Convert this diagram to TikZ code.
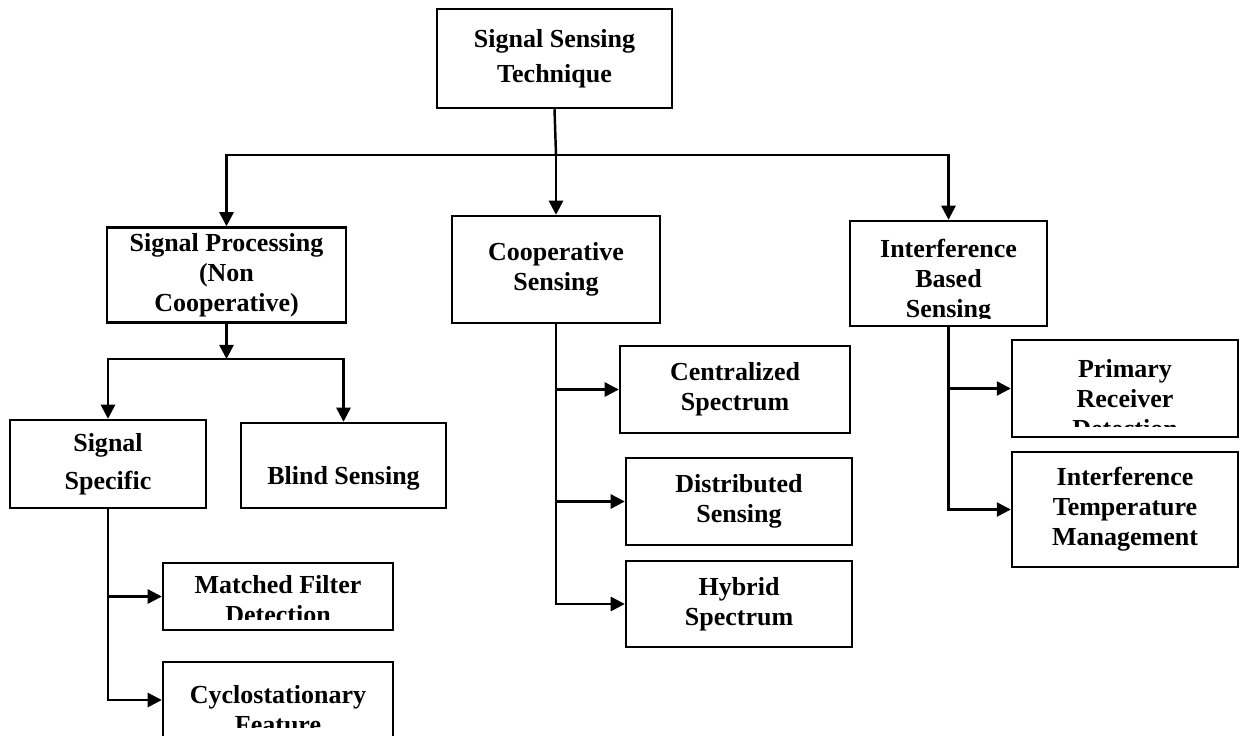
\documentclass[tikz,border=0pt]{standalone}
\usepackage{fontspec}
\setmainfont{Liberation Serif}
\usetikzlibrary{arrows.meta}

\begin{document}
\begin{tikzpicture}[
  x=0.02cm, y=-0.02cm,
  txt/.style={font=\fontsize{14.8}{17}\selectfont\bfseries, align=center, inner sep=0pt},
  box/.style={txt, draw, line width=1.4pt},
  cut/.style n args={3}{path picture={
    \clip ([yshift=#2]path picture bounding box.south west) rectangle (path picture bounding box.north east);
    \node[txt, anchor=north] at ([yshift=-#1]path picture bounding box.north) {#3};}},
  flow/.style={-{Triangle[length=8pt,width=8pt]}, line width=1.4pt},
  link/.style={line width=1.4pt}
]
\useasboundingbox (0,0) rectangle (1246,735);

% root and first level
\node[box, minimum width=4.7cm, minimum height=1.98cm] (tech) at (554.5,58.5) {Signal Sensing\\[2.8pt]Technique};
\node[box, minimum width=4.78cm, minimum height=1.9cm] (proc) at (226.5,275) {Signal Processing\\(Non\\Cooperative)};
\node[box, minimum width=4.16cm, minimum height=2.14cm] (coop) at (556,269.5) {Cooperative\\Sensing};
\node[box, minimum width=3.94cm, minimum height=2.1cm, cut={3.8pt}{4.5pt}{Interference\\Based\\Sensing}] (intf) at (948.5,273.5) {};

% non cooperative branch
\node[box, minimum width=3.92cm, minimum height=1.76cm] (spec) at (108,464) {Signal\\[4.5pt]Specific};
\node[box, minimum width=4.1cm, minimum height=1.7cm, text height=22pt, text depth=0pt] (blind) at (343.5,465.5) {Blind Sensing};
\node[box, minimum width=4.6cm, minimum height=1.34cm, cut={0.9pt}{6.2pt}{Matched Filter\\Detection}] (matched) at (278,596.5) {};
\node[box, minimum width=4.6cm, minimum height=1.52cm, cut={4.6pt}{6.2pt}{Cyclostationary\\Feature}] (cyclo) at (278,700) {};

% cooperative branch
\node[box, minimum width=4.6cm, minimum height=1.74cm] (central) at (735,389.5) {Centralized\\Spectrum};
\node[box, minimum width=4.52cm, minimum height=1.74cm] (distrib) at (739,501.5) {Distributed\\Sensing};
\node[box, minimum width=4.52cm, minimum height=1.72cm] (hybrid) at (739,604) {Hybrid\\Spectrum};

% interference branch
\node[box, minimum width=4.52cm, minimum height=1.94cm, cut={5.1pt}{6.2pt}{Primary\\Receiver\\Detection}] (primary) at (1125,388.5) {};
\node[box, minimum width=4.52cm, minimum height=2.3cm] (itm) at (1125,509.5) {Interference\\Temperature\\Management};

\coordinate (hub) at (556,155);
\coordinate (split) at (226.5,359);

\draw[link] (tech.south) -- (hub);
\draw[flow] (hub) -| (proc.north);
\draw[flow] (hub) -| (intf.north);
\draw[flow] (hub) -- (coop.north);

\draw[flow] (proc.south) -- (split);
\draw[flow] (split) -| (spec.north);
\draw[flow] (split) -| (blind.north);
\draw[flow] (spec.south) |- (matched.west);
\draw[flow] (spec.south) |- (cyclo.west);

\draw[flow] (coop.south) |- (central.west);
\draw[flow] (coop.south) |- (distrib.west);
\draw[flow] (coop.south) |- (hybrid.west);

\draw[flow] (intf.south) |- (primary.west);
\draw[flow] (intf.south) |- (itm.west);
\end{tikzpicture}
\end{document}
